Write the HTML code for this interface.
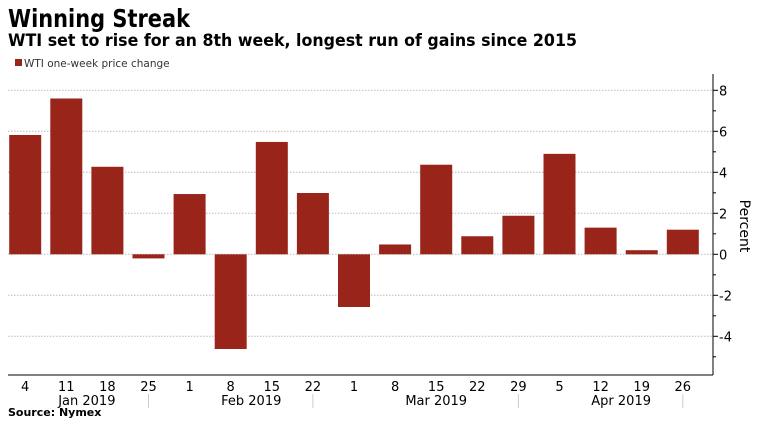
<!DOCTYPE html>
<html><head><meta charset="utf-8"><style>
body{margin:0;background:#fff;width:760px;height:433px;overflow:hidden;font-family:"DejaVu Sans","Liberation Sans",sans-serif;}
svg text{font-family:"DejaVu Sans","Liberation Sans",sans-serif;}
</style></head><body>
<svg id="c" width="760" height="433">
<text x="8" y="27" font-size="25" font-weight="bold" fill="#000" textLength="182" lengthAdjust="spacingAndGlyphs">Winning Streak</text>
<text x="8" y="46" font-size="16.5" font-weight="bold" fill="#000" textLength="569" lengthAdjust="spacingAndGlyphs">WTI set to rise for an 8th week, longest run of gains since 2015</text>
<rect x="15" y="59" width="7" height="7" fill="#99241a"/>
<text x="24" y="67" font-size="10.5" fill="#333">WTI one-week price change</text>
<text transform="translate(740,226) rotate(90)" text-anchor="middle" font-size="14" fill="#000">Percent</text>
<text x="8" y="416" font-size="11" font-weight="bold" fill="#000">Source: Nymex</text>
<g id="g"></g>
</svg>
<script>
const categories=["4","11","18","25","1","8","15","22","1","8","15","22","29","5","12","19","26"];
const values=[5.82,7.6,4.27,-0.2,2.94,-4.62,5.48,2.99,-2.57,0.48,4.37,0.88,1.88,4.9,1.3,0.2,1.2];
const yTicks=[-4,-2,0,2,4,6,8];
const months=["Jan 2019","Feb 2019","Mar 2019","Apr 2019"];
const monthSpans=[[0,3],[4,7],[8,12],[13,16]];
const NS="http://www.w3.org/2000/svg";
const g=document.getElementById('g');
const y0=254.3, k=20.5, x0=25.2, step=41.1, bw=32, left=8, right=713;
const y=v=>y0-v*k, x=i=>x0+i*step;
function el(t,a){const e=document.createElementNS(NS,t);for(const n in a)e.setAttribute(n,a[n]);g.appendChild(e);return e;}
yTicks.forEach(t=>{
  const l=el('line',{x1:left,x2:right,y1:y(t),y2:y(t),stroke:'#bbb','stroke-dasharray':'1.5,1.5','stroke-width':1});
  
  
  const tk=el('line',{x1:right,x2:right+5,y1:y(t),y2:y(t),stroke:'#000'});
  
  
  const tx=el('text',{x:right+6,y:y(t)+5,'font-size':13,fill:'#000'});
  tx.textContent=t;
  
  
});
for(let v=-5;v<=8;v++){if(v%2){const m=el('line',{x1:right,x2:right+3,y1:y(v),y2:y(v),stroke:'#000'});
  
  }}
const ax=el('line',{x1:right,x2:right,y1:74,y2:375,stroke:'#000'});


values.forEach((v,i)=>{
  const r=el('rect',{x:x(i)-bw/2,width:bw,y:Math.min(y(v),y(0)),height:Math.abs(y(v)-y(0)),fill:'#99241a'});
  
  
});
const xa=el('line',{x1:left,x2:right,y1:375,y2:375,stroke:'#000'});


categories.forEach((c,i)=>{
  const t=el('text',{x:x(i),y:391,'text-anchor':'middle','font-size':13,fill:'#000'});
  t.textContent=c;
  
  
});
months.forEach((m,j)=>{
  const [a,b]=monthSpans[j];
  const t=el('text',{x:(x(a)+x(b))/2,y:405,'text-anchor':'middle','font-size':13,fill:'#000'});
  t.textContent=m;
  
  
  const s=el('line',{x1:x(b),x2:x(b),y1:394,y2:408,stroke:'#ccc'});
  
  
});
</script>
</body></html>
